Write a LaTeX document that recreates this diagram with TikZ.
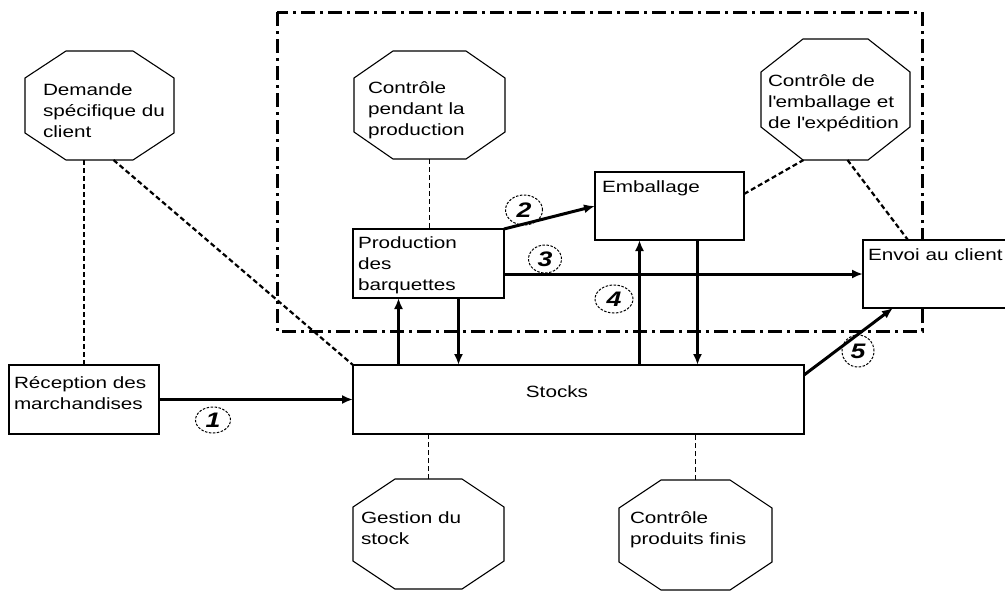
\documentclass[tikz,border=0pt]{standalone}
\usepackage{fontspec}
\setmainfont{Liberation Sans}[FakeStretch=1.27]
\usetikzlibrary{calc,arrows.meta,shapes.geometric}
\begin{document}
\begin{tikzpicture}[x=1pt,y=-1pt,
  txt/.style={inner sep=0pt,outer sep=0pt,anchor=base west,align=left,font=\fontsize{16.3}{21}\selectfont},
  box/.style={draw,fill=white,line width=1.4pt,inner sep=0pt,outer sep=0pt,anchor=north west},
  oct/.style={inner sep=0pt,outer sep=0pt,anchor=north west},
  octline/.style={line width=1.1pt,line join=miter},
  arr/.style={line width=3pt,-{Latex[length=11pt,width=9pt]}},
  dshthick/.style={line width=2.2pt,dash pattern=on 5pt off 3pt},
  dshthin/.style={line width=1.1pt,dash pattern=on 5pt off 3pt},
  frame/.style={line width=3pt,dash pattern=on 14pt off 5pt on 3pt off 5pt},
  num/.style={draw,ellipse,line width=1pt,dash pattern=on 2.5pt off 1.5pt,inner sep=0pt,font=\bfseries\itshape\fontsize{21}{21}\selectfont}]
\useasboundingbox (0,0) rectangle (1005,590);
\draw[frame] (277,12) rectangle (922,331);
\node[oct,minimum width=149pt,minimum height=109pt] (dem) at (25,51) {};
\node[oct,minimum width=151pt,minimum height=108pt] (cpp) at (354,51) {};
\node[oct,minimum width=149pt,minimum height=121pt] (cee) at (761,39) {};
\node[oct,minimum width=151pt,minimum height=110pt] (ges) at (353,479) {};
\node[oct,minimum width=153pt,minimum height=110pt] (cpf) at (619,480) {};
\foreach \o/\cx/\cy in {dem/41/27,cpp/39/27,cee/42/33,ges/42/28,cpf/42/28}
  \draw[octline] ($(\o.north west)+(\cx,0)$) -- ($(\o.north east)+(-\cx,0)$) -- ($(\o.north east)+(0,\cy)$) -- ($(\o.south east)+(0,-\cy)$) -- ($(\o.south east)+(-\cx,0)$) -- ($(\o.south west)+(\cx,0)$) -- ($(\o.south west)+(0,-\cy)$) -- ($(\o.north west)+(0,\cy)$) -- cycle;
\node[txt] (demT) at (43,137) {Demande\\spécifique du\\client};
\node[txt] (cppT) at (368,135) {Contrôle\\pendant la\\production};
\node[txt] (ceeT) at (768,128) {Contrôle de\\l\textquotesingle emballage et\\de l\textquotesingle expédition};
\node[txt] (gesT) at (361,544) {Gestion du\\stock};
\node[txt] (cpfT) at (630,544) {Contrôle\\produits finis};
\node[box,minimum width=150pt,minimum height=69pt] (rec) at (9,365) {};
\node[box,minimum width=451pt,minimum height=69pt] (stk) at (353,365) {};
\node[box,minimum width=151pt,minimum height=69pt] (prod) at (353,229) {};
\node[box,minimum width=149pt,minimum height=68pt] (emb) at (595,172) {};
\node[box,minimum width=150pt,minimum height=68pt] (env) at (863,240) {};
\node[txt] (recT) at (14,409) {Réception des\\marchandises};
\node[txt,anchor=base] (stkT) at (557,397) {Stocks};
\node[txt] (prodT) at (358,290) {Production\\des\\barquettes};
\node[txt] (embT) at (602,192) {Emballage};
\node[txt] (envT) at (868,260) {Envoi au client};
\draw[dshthick] (rec.north |- dem.south) -- (rec.north);
\draw[dshthick] ([xshift=14pt]dem.south) -- (stk.north west);
\draw[dshthin] (cpp.south) -- (cpp.south |- prod.north);
\draw[dshthick] ([yshift=12pt]emb.east) -- ([xshift=-32pt]cee.south);
\draw[dshthick] ([xshift=12pt]cee.south) -- ([xshift=45pt]env.north west);
\draw[dshthin] (ges.north) -- (ges.north |- stk.south);
\draw[dshthin] (cpf.north) -- (cpf.north |- stk.south);
\draw[arr] (rec.east) -- (stk.west);
\draw[arr] (prod.north east) -- (emb.west);
\draw[arr] (prod.east |- env.west) -- (env.west);
\draw[arr] ([xshift=-30pt]prod.south |- stk.north) -- ([xshift=-30pt]prod.south);
\draw[arr] ([xshift=30pt]prod.south) -- ([xshift=30pt]prod.south |- stk.north);
\draw[arr] ([xshift=-30pt]emb.south |- stk.north) -- ([xshift=-30pt]emb.south);
\draw[arr] ([xshift=28pt]emb.south) -- ([xshift=28pt]emb.south |- stk.north);
\draw[arr] ([yshift=-10pt]stk.north east) -- ([xshift=30pt]env.south west);
\node[num,minimum width=35pt,minimum height=26pt] (n1) at (213,420) {1};
\node[num,minimum width=37pt,minimum height=30pt] (n2) at (524,210) {2};
\node[num,minimum width=33pt,minimum height=28pt] (n3) at (545,259) {3};
\node[num,minimum width=38pt,minimum height=28pt] (n4) at (614,299) {4};
\node[num,minimum width=32pt,minimum height=32pt] (n5) at (858,351) {5};
\end{tikzpicture}
\end{document}
